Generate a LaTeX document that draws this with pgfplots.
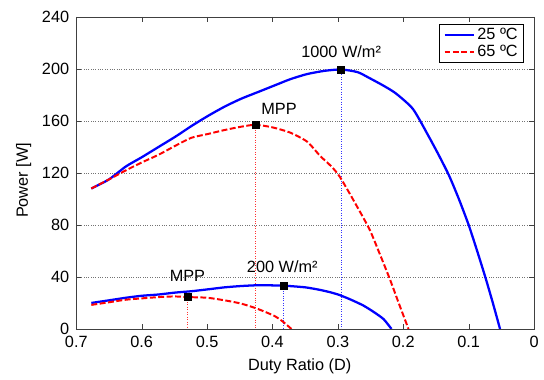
\documentclass[border=0pt]{standalone}
\usepackage{fontspec}
\setmainfont{Liberation Sans}
\usepackage{pgfplots}
\pgfplotsset{compat=1.18}
\begin{document}
\fontsize{16.5}{19}\selectfont
\begin{tikzpicture}
\begin{axis}[
  scale only axis, width=462bp, height=315bp,
  x dir=reverse,
  xmin=0, xmax=0.7, ymin=0, ymax=240,
  xtick={0,0.1,0.2,0.3,0.4,0.5,0.6,0.7},
  xticklabels={0,0.1,0.2,0.3,0.4,0.5,0.6,0.7},
  ytick={0,40,80,120,160,200,240},
  /pgf/number format/assume math mode=true,
  tick label style={font=\fontsize{16.5}{19}\selectfont},
  xticklabel style={yshift=-2bp},
  yticklabel style={xshift=-1.5bp},
  label style={font=\fontsize{16.5}{19}\selectfont},
  ymajorgrids, grid style={dotted, black!55, line width=0.4pt},
  axis line style={black!75},
  tick style={black!75},
  major tick length=5bp,
  xlabel={Duty Ratio (D)}, ylabel={Power [W]},
  xlabel style={at={(axis description cs:0.488,-0.121)}, anchor=center},
  ylabel style={at={(axis description cs:-0.1147,0.476)}, anchor=center},
  legend style={at={(axis description cs:0.978,0.978)}, anchor=north east,
    draw=black, line width=0.6pt, font=\fontsize{16.5}{19}\selectfont,
    inner xsep=4bp, inner ysep=2bp, row sep=-1bp},
  legend cell align=left,
  legend image code/.code={\draw[#1] (0cm,0cm) -- (30bp,0cm);},
]
% MPP dotted guide lines
\addplot[forget plot, blue!80, dotted, line width=0.5pt] coordinates {(0.295,199.5) (0.295,0)};
\addplot[forget plot, red!80, dotted, line width=0.5pt] coordinates {(0.426,157) (0.426,0)};
\addplot[forget plot, blue!80, dotted, line width=0.5pt] coordinates {(0.383,33.3) (0.383,0)};
\addplot[forget plot, red!80, dotted, line width=0.5pt] coordinates {(0.530,24.5) (0.530,0)};

% 25 C, 1000 W/m2
\addplot[blue, line width=2.3pt, smooth, tension=0.4] coordinates {
(0.677,108) (0.65,115) (0.624,125) (0.60,132) (0.574,140) (0.548,148) (0.524,156)
(0.498,164) (0.473,171) (0.448,177) (0.423,182) (0.398,187) (0.373,192) (0.347,196)
(0.32,198.5) (0.295,199.5) (0.27,197.5) (0.252,193) (0.23,187) (0.211,181) (0.185,169)
(0.161,148) (0.145,133) (0.130,118) (0.115,100) (0.1,80) (0.087,60) (0.074,39)
(0.063,20) (0.052,0)};
\addlegendentry{25 ºC}
% 65 C, 1000 W/m2
\addplot[red, line width=2pt, dash pattern=on 6bp off 2.5bp, smooth, tension=0.4] coordinates {
(0.677,108) (0.65,115) (0.624,122) (0.60,128) (0.574,134) (0.548,141) (0.524,147)
(0.498,150) (0.473,153) (0.448,155.5) (0.426,157) (0.40,155) (0.373,151) (0.347,144)
(0.327,133) (0.31,125) (0.297,117) (0.275,98) (0.252,77) (0.237,59) (0.221,39)
(0.207,20) (0.192,0)};
\addlegendentry{65 ºC}
% 25 C, 200 W/m2
\addplot[forget plot, blue, line width=2.3pt, smooth, tension=0.4] coordinates {
(0.677,20) (0.65,22) (0.624,24) (0.60,25.5) (0.574,26.5) (0.548,28) (0.524,29)
(0.498,30.5) (0.473,32) (0.448,33) (0.423,33.6) (0.40,33.5) (0.383,33.3) (0.35,32)
(0.327,30) (0.31,28) (0.297,26) (0.28,22.5) (0.261,18) (0.245,13) (0.23,7.5) (0.218,0)};
% 65 C, 200 W/m2
\addplot[forget plot, red, line width=2pt, dash pattern=on 6bp off 2.5bp, smooth, tension=0.4] coordinates {
(0.677,18.5) (0.65,20.5) (0.624,22.5) (0.60,23.5) (0.574,24.5) (0.55,25) (0.53,24.5)
(0.50,24) (0.473,22) (0.448,19.5) (0.423,15.5) (0.397,10) (0.385,6) (0.371,0)};

% MPP markers
\addplot[forget plot, only marks, mark=square*, mark size=3.6bp, black] coordinates {
(0.295,199.5) (0.426,157) (0.383,33.3) (0.530,24.5)};

\node at (axis cs:0.295,213) {1000 W/m²};
\node at (axis cs:0.39,169) {MPP};
\node at (axis cs:0.53,40.5) {MPP};
\node at (axis cs:0.385,48) {200 W/m²};

\coordinate (bl) at (axis description cs:0,0);
\coordinate (tr) at (axis description cs:1,1);
\end{axis}
\path ([shift={(-77bp,-51bp)}]bl) rectangle ([shift={(5bp,17bp)}]tr);
\end{tikzpicture}
\end{document}
